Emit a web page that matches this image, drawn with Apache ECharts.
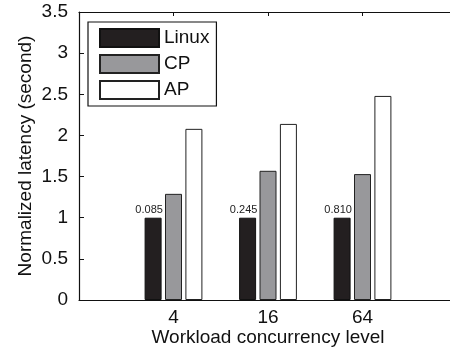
<!DOCTYPE html>
<html>
<head>
<meta charset="utf-8">
<script src="https://cdn.jsdelivr.net/npm/echarts@6/dist/echarts.min.js"></script>
<style>
  html, body { margin: 0; padding: 0; background: #fff; overflow: hidden; }
  #chart { width: 450px; height: 353px; }
</style>
</head>
<body>
<div id="chart"></div>
<script>
// Concurrency levels on the x axis (placed at positions 1, 2, 3)
const categories = ['4', '16', '64'];
// Normalized latency per system
const linuxValues = [1.0, 1.0, 1.0];
const cpValues = [1.29, 1.57, 1.53];
const apValues = [2.08, 2.14, 2.48];
// Absolute Linux latency (seconds) printed above the Linux bars
const linuxLabels = ['0.085', '0.245', '0.810'];
// Y axis ticks
const yTicks = { min: 0, max: 3.5, step: 0.5 };

const FONT = "'Liberation Sans', Arial, Helvetica, sans-serif";

function toPoints(values) {
  return values.map((v, i) => [i + 1, v]);
}

const chart = echarts.init(document.getElementById('chart'), null, { renderer: 'canvas' });

const option = {
  backgroundColor: '#ffffff',
  animation: false,
  textStyle: { fontFamily: FONT, color: '#111' },
  // the plot box runs slightly past the right edge of the canvas
  grid: { left: 79, width: 378, top: 12, bottom: 53, outerBoundsMode: 'none', containLabel: false },
  legend: {
    orient: 'vertical',
    left: 88,
    top: 22,
    padding: [6, 7, 6, 11],
    itemGap: 6,
    itemWidth: 59,
    itemHeight: 18,
    icon: 'rect',
    borderColor: '#111',
    borderWidth: 1.2,
    backgroundColor: '#fff',
    textStyle: { fontFamily: FONT, fontSize: 19, color: '#111', lineHeight: 18, padding: [0, 0, 0, 0] },
    data: ['Linux', 'CP', 'AP']
  },
  xAxis: [
    {
      type: 'value',
      position: 'bottom',
      min: 0,
      max: 4,
      interval: 1,
      splitLine: { show: false },
      axisLine: { show: true, lineStyle: { color: '#111', width: 1.2 } },
      axisTick: { show: true, inside: true, length: 4, lineStyle: { color: '#111' } },
      axisLabel: {
        fontFamily: FONT,
        fontSize: 19,
        color: '#111',
        margin: 8,
        formatter: function (v) { return categories[v - 1] || ''; }
      },
      name: 'Workload concurrency level',
      nameLocation: 'middle',
      nameGap: 28,
      nameMoveOverlap: false,
      nameTextStyle: { fontFamily: FONT, fontSize: 19, color: '#111' }
    },
    {
      type: 'value',
      position: 'top',
      min: 0,
      max: 4,
      interval: 1,
      splitLine: { show: false },
      axisLine: { show: true, lineStyle: { color: '#111', width: 1.2 } },
      axisTick: { show: true, inside: true, length: 4, lineStyle: { color: '#111' } },
      axisLabel: { show: false }
    }
  ],
  yAxis: {
    type: 'value',
    min: yTicks.min,
    max: yTicks.max,
    interval: yTicks.step,
    splitLine: { show: false },
    axisLine: { show: true, lineStyle: { color: '#111', width: 1.2 } },
    axisTick: { show: true, inside: true, length: 5, lineStyle: { color: '#111' } },
    axisLabel: { fontFamily: FONT, fontSize: 19, color: '#111', margin: 11 },
    name: 'Normalized latency (second)',
    nameLocation: 'middle',
    nameGap: 44,
    nameMoveOverlap: false,
    nameTextStyle: { fontFamily: FONT, fontSize: 19, color: '#111' }
  },
  series: [
    {
      name: 'Linux',
      type: 'bar',
      xAxisIndex: 0,
      barWidth: 17,
      barGap: '20%',
      data: toPoints(linuxValues),
      itemStyle: { color: '#231f20', borderColor: '#111', borderWidth: 1 },
      label: {
        show: true,
        position: 'top',
        distance: 2,
        offset: [-4, 0],
        fontFamily: FONT,
        fontSize: 11,
        color: '#222',
        formatter: function (p) { return linuxLabels[p.dataIndex]; }
      }
    },
    {
      name: 'CP',
      type: 'bar',
      xAxisIndex: 0,
      barWidth: 17,
      barGap: '20%',
      data: toPoints(cpValues),
      itemStyle: { color: '#98989b', borderColor: '#222', borderWidth: 1 }
    },
    {
      name: 'AP',
      type: 'bar',
      xAxisIndex: 0,
      barWidth: 17,
      barGap: '20%',
      data: toPoints(apValues),
      itemStyle: { color: '#ffffff', borderColor: '#222', borderWidth: 1 }
    }
  ]
};

chart.setOption(option);
</script>
</body>
</html>
